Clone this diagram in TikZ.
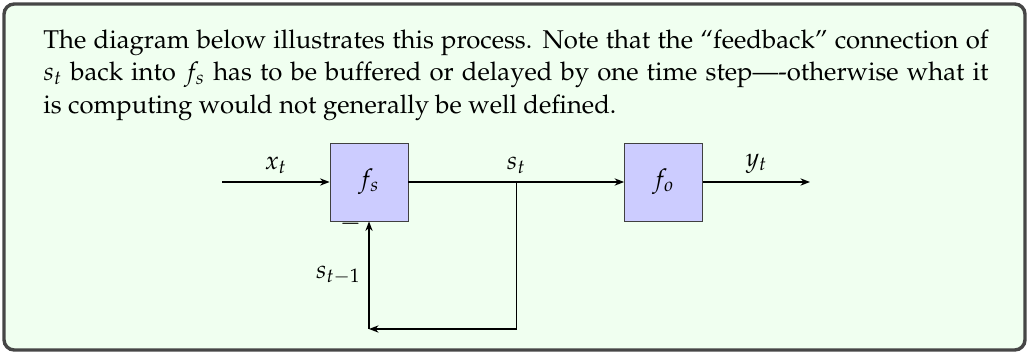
\documentclass[tikz,border=0pt]{standalone}
\usepackage[T1]{fontenc}
\usepackage{mathpazo}
\usetikzlibrary{arrows.meta,positioning,calc}
\definecolor{framegray}{HTML}{464646}
\definecolor{notebg}{HTML}{F0FFF0}
\definecolor{blockblue}{HTML}{CCCCFF}

\begin{document}
\begin{tikzpicture}[x=0.44pt, y=-0.44pt, node distance={129.6pt},
    font=\fontsize{11.3}{14.3}\selectfont,
    blk/.style = {draw=black!75, fill=blockblue, minimum size=34.3pt, inner sep=0pt},
    sig/.style = {-{Stealth[length=4.2pt,width=3.2pt]}, line width=0.6pt}]
    \useasboundingbox (0,0) rectangle (1029,353);
    \draw[framegray, line width=1.5pt, fill=notebg, rounded corners=4.5pt] (4,4) rectangle (1025,350);

    \node[anchor=north west, text width=415.8pt, inner sep=0pt, align=justify] (note) at (43,29)
        {\hyphenpenalty=10000 The diagram below illustrates this process. Note that the ``feedback'' connection of\linebreak
         $s_t$ back into $f_s$ has to be buffered or delayed by one time step----otherwise what it\linebreak
         is computing would not generally be well defined.};

    \node[blk] (fs) at (369,182) {$f_s$};
    \node[blk] (fo) [right of=fs] {$f_o$};

    \coordinate (xin) at (222,182);
    \coordinate (yout) at (810,182);
    \coordinate (split) at ($(fs.east)!0.5!(fo.west)$);
    \coordinate (back) at (fs.south |- 0,329);

    \draw[sig] (xin) -- node[above] {$x_t$} (fs);
    \draw[sig] (fs) -- node[above] {$s_t$} (fo);
    \draw[sig] (fo) -- node[above] {$y_t$} (yout);

    \draw[sig] (split) |- (back);
    \draw[sig] (back) -- node[left] {$s_{t-1}$} (fs);
    \node[anchor=base, inner sep=0pt] (minus) at (350.5,230) {$-$};
\end{tikzpicture}
\end{document}
